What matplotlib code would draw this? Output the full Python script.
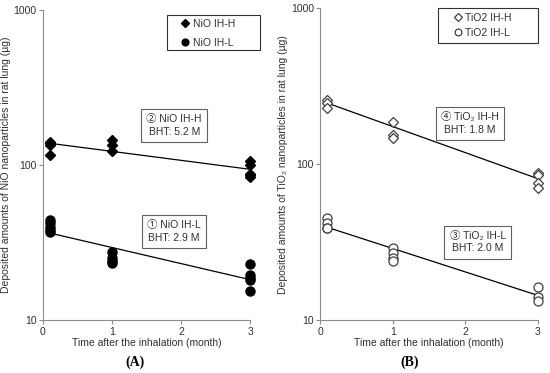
import numpy as np
import matplotlib
matplotlib.use("Agg")
import matplotlib.pyplot as plt
from matplotlib.patches import Rectangle
from matplotlib.ticker import FixedLocator, NullLocator

plt.rcParams['font.family'] = ['Liberation Sans', 'Noto Sans CJK JP', 'DejaVu Sans']

# data (time in month, amount in ug)
nio_h_t = [0.1, 0.1, 0.1, 0.1, 1, 1, 1, 3, 3, 3, 3, 3]
nio_h_y = [141, 138, 135, 116, 145, 135, 123, 106, 100, 88, 86, 84]
nio_l_t = [0.1, 0.1, 0.1, 0.1, 0.1, 1, 1, 1, 1, 3, 3, 3, 3, 3]
nio_l_y = [44, 42, 40, 38, 37, 27.5, 25, 24, 23.5, 23, 19.5, 18.7, 18, 15.4]
tio_h_t = [0.1, 0.1, 0.1, 1, 1, 1, 3, 3, 3, 3]
tio_h_y = [256, 248, 228, 186, 153, 147, 88, 85, 76, 70]
tio_l_t = [0.1, 0.1, 0.1, 0.1, 1, 1, 1, 1, 3, 3, 3]
tio_l_y = [45, 42, 39, 39, 29, 27, 25, 24, 16.3, 14, 13.3]

# fitted one-compartment clearance: amount0 and biological half time (month)
fit_a0 = {"nio_h": 140, "nio_l": 37.3, "tio_h": 256, "tio_l": 40.7}
fit_bht = {"nio_h": 5.2, "nio_l": 2.9, "tio_h": 1.8, "tio_l": 2.0}

fig = plt.figure(figsize=(5.5, 3.73), dpi=100)
axA = fig.add_axes([0.078, 0.142, 0.377, 0.831])
axB = fig.add_axes([0.582, 0.142, 0.396, 0.836])

tt = np.linspace(0.1, 3, 50)
TXT = '#303030'


def fit_line(ax, key):
    k = np.log(2) / fit_bht[key]
    ax.plot(tt, fit_a0[key] * np.exp(-k * tt), color='black', lw=0.9, zorder=2)


def style(ax, ylabel):
    ax.set_yscale('log')
    ax.set_ylim(10, 1000)
    ax.set_xlim(0, 3)
    ax.yaxis.set_major_locator(FixedLocator([10, 100, 1000]))
    ax.yaxis.set_minor_locator(NullLocator())
    ax.set_yticklabels(['10', '100', '1000'])
    ax.set_xticks([0, 1, 2, 3])
    for s in ['top', 'right']:
        ax.spines[s].set_visible(False)
    for s in ['left', 'bottom']:
        ax.spines[s].set_color('#8c8c8c')
        ax.spines[s].set_linewidth(0.8)
    ax.tick_params(colors='#8c8c8c', labelcolor=TXT, labelsize=7.5, length=3, width=0.8, pad=2)
    ax.tick_params(axis='y', pad=1.5)
    ax.set_xlabel('Time after the inhalation (month)', fontsize=7.5, color=TXT, labelpad=1)
    ax.set_ylabel(ylabel, fontsize=7.5, color=TXT, labelpad=2)


def legend_box(ax, x0, y0, x1, y1, anchor, spacing):
    ax.add_patch(Rectangle((x0, y0), x1 - x0, y1 - y0, transform=ax.transAxes,
                           fc='white', ec='#303030', lw=0.8, clip_on=False, zorder=4))
    leg = ax.legend(loc='upper left', bbox_to_anchor=anchor, fontsize=7.5, markerscale=0.75,
                    handlelength=1.0, handletextpad=0.2, borderpad=0, borderaxespad=0,
                    labelspacing=spacing, frameon=False)
    leg.set_zorder(5)
    for t in leg.get_texts():
        t.set_color(TXT)


box = dict(boxstyle='square,pad=0.5', fc='white', ec='#606060', lw=0.8)

# (A) NiO
style(axA, 'Deposited amounts of NiO nanoparticles in rat lung (µg)')
fit_line(axA, "nio_h")
fit_line(axA, "nio_l")
axA.plot(nio_h_t, nio_h_y, 'D', color='black', ms=5.5, ls='none', clip_on=False, label='NiO IH-H', zorder=3)
axA.plot(nio_l_t, nio_l_y, 'o', color='black', ms=6.5, ls='none', clip_on=False, label='NiO IH-L', zorder=3)
legend_box(axA, 0.599, 0.871, 1.048, 0.984, (0.662, 0.972), 0.85)
axA.text(1.9, 180, '② NiO IH-H\nBHT: 5.2 M', fontsize=7.5, ha='center', va='center',
         color=TXT, linespacing=1.3, bbox=box)
axA.text(1.9, 37.3, '① NiO IH-L\nBHT: 2.9 M', fontsize=7.5, ha='center', va='center',
         color=TXT, linespacing=1.3, bbox=box)

# (B) TiO2
style(axB, 'Deposited amounts of TiO₂ nanoparticles in rat lung (µg)')
fit_line(axB, "tio_h")
fit_line(axB, "tio_l")
axB.plot(tio_h_t, tio_h_y, 'D', mfc='white', mec='#404040', mew=0.9, ms=5.5, ls='none',
         clip_on=False, label='TiO2 IH-H', zorder=3)
axB.plot(tio_l_t, tio_l_y, 'o', mfc='white', mec='#404040', mew=0.9, ms=6.5, ls='none',
         clip_on=False, label='TiO2 IH-L', zorder=3)
legend_box(axB, 0.541, 0.888, 1.0, 1.0, (0.61, 0.985), 0.5)
axB.text(2.06, 182, '④ TiO₂ IH-H\nBHT: 1.8 M', fontsize=7.5, ha='center', va='center',
         color=TXT, linespacing=1.3, bbox=box)
axB.text(2.17, 31.6, '③ TiO₂ IH-L\nBHT: 2.0 M', fontsize=7.5, ha='center', va='center',
         color=TXT, linespacing=1.3, bbox=box)

fig.text(0.245, 0.018, '(A)', fontsize=10, fontweight='bold', family='Liberation Serif', ha='center')
fig.text(0.745, 0.018, '(B)', fontsize=10, fontweight='bold', family='Liberation Serif', ha='center')

fig.savefig('out.png', dpi=100)
